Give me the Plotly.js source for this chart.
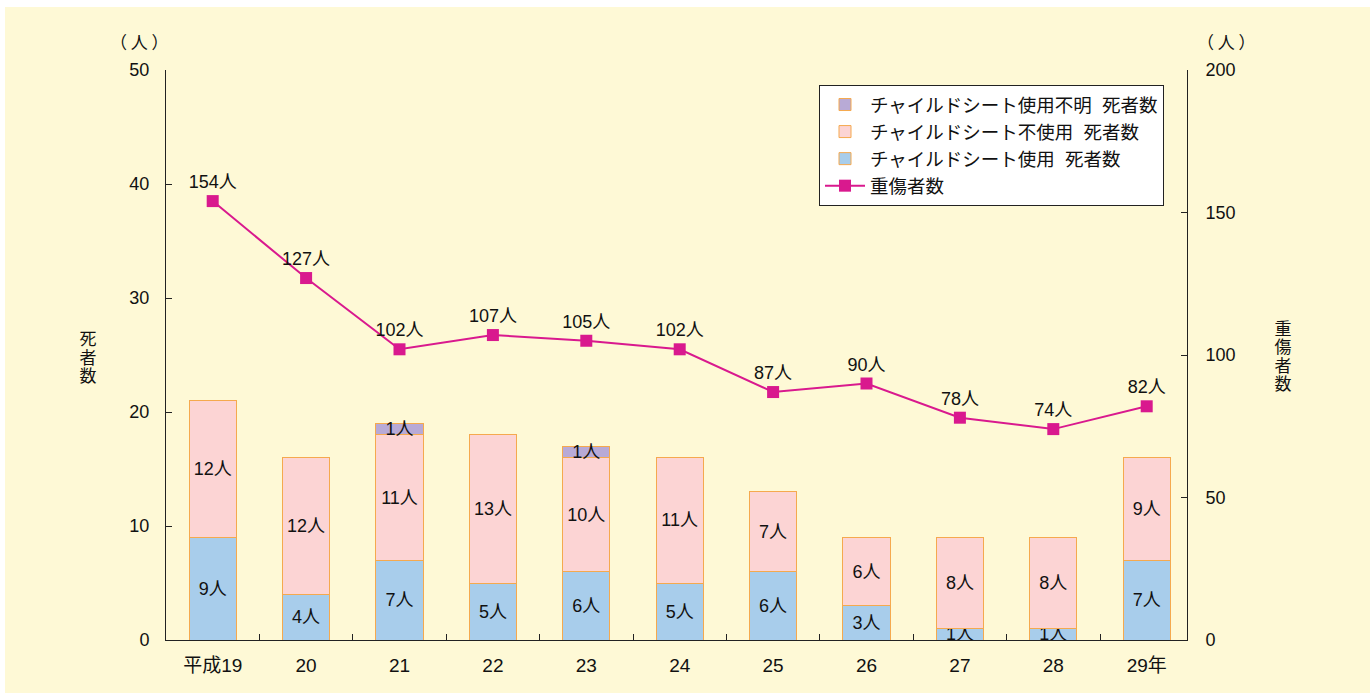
<!DOCTYPE html>
<html><head><meta charset="utf-8">
<script src="https://cdn.plot.ly/plotly-3.0.1.min.js"></script>
<style>html,body{margin:0;padding:0;background:#ffffff;}#chart{position:absolute;left:5px;top:7px;width:1365px;height:686px;}</style>
</head><body><div id="chart"></div>
<script>
const categories = ['平成19','20','21','22','23','24','25','26','27','28','29年'];
const usedDeaths = [9,4,7,5,6,5,6,3,1,1,7];
const notUsedDeaths = [12,12,11,13,10,11,7,6,8,8,9];
const unknownDeaths = [0,0,1,0,1,0,0,0,0,0,0];
const seriousInjuries = [154,127,102,107,105,102,87,90,78,74,82];
const leftTitle = '死者数';
const rightTitle = '重傷者数';

const FONT = 'Liberation Sans, Arial, Noto Sans CJK JP, sans-serif';
const CJK = 'Noto Sans CJK JP, sans-serif';
const lbl = v => v.map(x => x > 0 ? x + '人' : '');
const barCommon = {
  type:'bar', x:categories, textposition:'inside', insidetextanchor:'middle',
  constraintext:'none', textangle:0, cliponaxis:false,
  textfont:{family:FONT, size:18, color:'#111'},
  hoverinfo:'skip'
};
const traces = [
  Object.assign({}, barCommon, {name:'チャイルドシート使用&nbsp;&nbsp;死者数', y:usedDeaths, text:lbl(usedDeaths),
    marker:{color:'#A8CDEB', line:{color:'#F5A94E', width:1}}, legendrank:3}),
  Object.assign({}, barCommon, {name:'チャイルドシート不使用&nbsp;&nbsp;死者数', y:notUsedDeaths, text:lbl(notUsedDeaths),
    marker:{color:'#FCD4D4', line:{color:'#F5A94E', width:1}}, legendrank:2}),
  Object.assign({}, barCommon, {name:'チャイルドシート使用不明&nbsp;&nbsp;死者数', y:unknownDeaths, text:lbl(unknownDeaths),
    marker:{color:'#B8AAD6', line:{color:'#F5A94E', width:1}}, legendrank:1}),
  {type:'scatter', mode:'lines+markers+text', name:'重傷者数', x:categories, y:seriousInjuries, yaxis:'y2',
   text:seriousInjuries.map(v => v + '人'), textposition:'top center',
   textfont:{family:FONT, size:18, color:'#111'},
   line:{color:'#D9198E', width:2}, marker:{symbol:'square', size:12, color:'#D9198E'},
   cliponaxis:false, legendrank:4}
];
const L = 166, R = 1187, T = 70, B = 640;
const px = x => (x - L) / (R - L);
const py = y => (B - y) / (B - T);
const catStep = 93.4;
const titleTargets = {};
titleTargets[leftTitle] = [88, 358];
titleTargets[rightTitle] = [1283, 357];
const annotations = [
  {xref:'paper', yref:'paper', x:px(139), y:py(41), xanchor:'center', yanchor:'middle', text:'（ 人 ）', showarrow:false, font:{family:CJK, size:17}},
  {xref:'paper', yref:'paper', x:px(1226), y:py(41), xanchor:'center', yanchor:'middle', text:'（ 人 ）', showarrow:false, font:{family:CJK, size:17}},
  {xref:'paper', yref:'paper', x:px(88), y:py(358), xanchor:'center', yanchor:'middle', text:leftTitle, showarrow:false, font:{family:CJK, size:17}},
  {xref:'paper', yref:'paper', x:px(1283), y:py(357), xanchor:'center', yanchor:'middle', text:rightTitle, showarrow:false, font:{family:CJK, size:17}}
];
const layout = {
  width:1365, height:686,
  margin:{l:L-5, r:1370-R, t:T-7, b:693-B},
  paper_bgcolor:'#FEF9D6', plot_bgcolor:'rgba(0,0,0,0)',
  font:{family:FONT, size:18, color:'#111'},
  barmode:'stack', bargap:0.495,
  showlegend:true,
  legend:{x:px(819), y:py(85), xanchor:'left', yanchor:'top', bgcolor:'#ffffff',
    bordercolor:'#222', borderwidth:1, traceorder:'normal', font:{family:FONT, size:18.5, color:'#111'},
    tracegroupgap:0, itemwidth:40},
  xaxis:{type:'category', range:[-0.5, -0.5 + (R - L)/catStep], showline:true, linecolor:'#222', linewidth:1,
    ticks:'inside', ticklen:6, tickcolor:'#222',
    tickson:'boundaries', showgrid:false, tickfont:{size:19}, zeroline:false, ticklabelstandoff:8},
  yaxis:{range:[0,50], dtick:10, showline:true, linecolor:'#222', linewidth:1, ticks:'inside', ticklen:6,
    tickcolor:'#222', showgrid:false, zeroline:false, tickfont:{size:18}, ticklabelstandoff:12},
  yaxis2:{range:[0,200], dtick:50, overlaying:'y', side:'right', showline:true, linecolor:'#222', linewidth:1,
    ticks:'inside', ticklen:6, tickcolor:'#222', showgrid:false, zeroline:false, tickfont:{size:18}, ticklabelstandoff:14},
  annotations:annotations
};
Plotly.newPlot('chart', traces, layout, {displayModeBar:false, staticPlot:true}).then(gd => {
  // set the stacked axis titles in vertical writing mode, as in the original
  gd.querySelectorAll('.annotation-text').forEach(t => {
    const target = titleTargets[t.textContent];
    if (!target) return;
    t.style.writingMode = 'vertical-rl';
    t.style.letterSpacing = '1.5px';
    const r = t.getBoundingClientRect();
    const dx = target[0] - (r.left + r.width / 2);
    const dy = target[1] - (r.top + r.height / 2);
    const prev = t.getAttribute('transform') || '';
    t.setAttribute('transform', 'translate(' + dx + ',' + dy + ') ' + prev);
  });
});
</script></body></html>
